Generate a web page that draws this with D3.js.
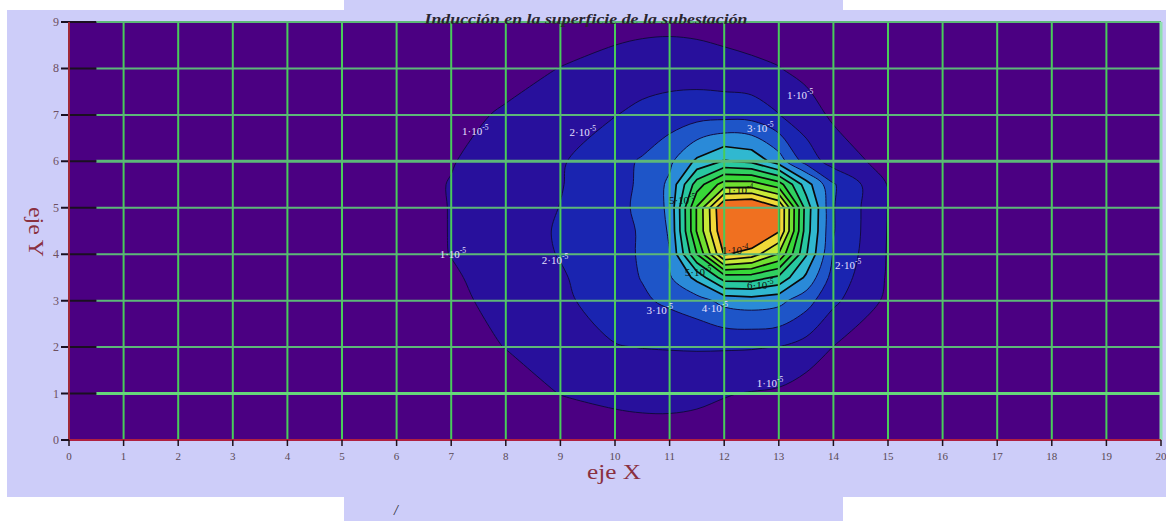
<!DOCTYPE html>
<html>
<head>
<meta charset="utf-8">
<script src="https://cdn.jsdelivr.net/npm/d3@7"></script>
<style>
  html, body { margin: 0; padding: 0; background: #fff; }
  svg { display: block; }
</style>
</head>
<body>
<svg id="chart" width="1166" height="521"></svg>
<script>
// Measurement mesh (metres). Finer spacing around the peak.
const gridX = [6, 7, 8, 9, 10, 10.5, 11, 11.5, 12, 12.5, 13, 13.5, 14, 15, 16];
const gridY = [0, 1, 2, 3, 3.5, 4, 4.5, 5, 5.5, 6, 7, 8, 9];

// Induction at each node in units of 1e-5, one row per gridY value (bottom to top)
const inductionRows = [
  [0.15, 0.20, 0.30, 0.40, 0.50, 0.58, 0.60, 0.60, 0.55, 0.45, 0.40, 0.35, 0.30, 0.20, 0.15], // y = 0
  [0.20, 0.35, 0.60, 1.02, 1.25, 1.30, 1.30, 1.20, 1.05, 0.95, 0.85, 0.50, 0.45, 0.30, 0.20], // y = 1
  [0.35, 0.65, 1.02, 1.55, 1.95, 2.02, 2.05, 2.08, 2.08, 2.06, 1.98, 1.60, 0.98, 0.55, 0.30], // y = 2
  [0.45, 0.82, 1.25, 1.80, 2.50, 2.85, 3.20, 3.60, 4.30, 4.50, 4.30, 3.40, 2.20, 0.80, 0.40], // y = 3
  [0.50, 0.90, 1.35, 1.90, 2.60, 3.05, 3.90, 5.30, 7.50, 7.50, 6.80, 4.80, 2.60, 0.90, 0.45], // y = 3.5
  [0.60, 1.02, 1.50, 2.05, 2.70, 3.10, 3.98, 8.00, 12.1, 11.5, 9.90, 6.10, 2.90, 0.93, 0.50], // y = 4
  [0.60, 1.03, 1.50, 2.10, 2.70, 3.10, 4.10, 9.10, 13.0, 13.5, 12.1, 6.50, 3.05, 0.95, 0.50], // y = 4.5
  [0.60, 1.03, 1.50, 2.02, 2.75, 3.20, 4.20, 9.10, 13.2, 13.5, 12.1, 6.60, 3.05, 0.97, 0.50], // y = 5
  [0.62, 1.04, 1.50, 1.95, 2.70, 3.15, 4.20, 7.50, 9.50, 9.50, 8.50, 5.50, 3.10, 0.95, 0.50], // y = 5.5
  [0.55, 0.95, 1.45, 1.90, 2.70, 3.10, 3.80, 5.20, 6.10, 5.80, 4.50, 2.60, 1.55, 0.65, 0.40], // y = 6
  [0.40, 0.75, 1.10, 1.60, 1.97, 2.25, 2.45, 2.60, 2.65, 2.60, 2.03, 1.40, 0.85, 0.45, 0.30], // y = 7
  [0.25, 0.45, 0.70, 1.02, 1.35, 1.50, 1.55, 1.50, 1.35, 1.20, 1.03, 0.75, 0.55, 0.30, 0.20], // y = 8
  [0.15, 0.25, 0.40, 0.50, 0.65, 0.72, 0.75, 0.70, 0.60, 0.50, 0.45, 0.35, 0.30, 0.20, 0.15]  // y = 9
];

// Contour levels (x 1e-5) and the fill of the band above each level
const levels = [1, 2, 3, 4, 5, 6, 7, 8, 9, 10, 11, 12];
const bandColors = ['#28109c', '#1a24b0', '#1e55c8', '#2a8ad8', '#30b8d0', '#28c8a0',
                    '#30d060', '#38d838', '#70e030', '#c8e838', '#f0d838', '#f07020'];

// Axis ticks
const xTicks = d3.range(0, 21);
const yTicks = d3.range(0, 10);

// Contour labels: position (m), mantissa, exponent, dark text inside the peak
const labelX = [7.44, 9.41, 13.39, 12.66, 7.03, 8.90, 14.27, 10.82, 11.83, 12.84, 12.29, 11.23, 12.20, 11.52, 12.66];
const labelY = [6.65, 6.63, 7.43, 6.72, 4.00, 3.88, 3.77, 2.80, 2.84, 1.23, 5.38, 5.17, 4.09, 3.62, 3.34];
const labelMant = ['1', '2', '1', '3', '1', '2', '2', '3', '4', '1', '1', '5', '1', '5', '6'];
const labelExp = ['-5', '-5', '-5', '-5', '-5', '-5', '-5', '-5', '-5', '-5', '-4', '-5', '-4', '-5', '-5'];
const labelDark = [false, false, false, false, false, false, false, false, false, false, true, true, true, true, true];

const W = 1166, H = 521;
const svg = d3.select('#chart');
const serif = '"Liberation Serif", "DejaVu Serif", serif';

// page backdrop
svg.append('rect').attr('width', W).attr('height', H).attr('fill', '#ffffff');
svg.append('rect').attr('x', 7).attr('y', 10).attr('width', W - 7).attr('height', 487).attr('fill', '#cdcdf9');
svg.append('rect').attr('x', 344).attr('y', 0).attr('width', 499).attr('height', H).attr('fill', '#cdcdf9');

const x = d3.scaleLinear().domain([0, 20]).range([69, 1161]);
const y = d3.scaleLinear().domain([0, 9]).range([440, 22]);

// plot background (values below the first level)
svg.append('rect')
  .attr('x', x(0)).attr('y', y(9))
  .attr('width', x(20) - x(0)).attr('height', y(0) - y(9))
  .attr('fill', '#4b0082');

svg.append('clipPath').attr('id', 'plotClip')
  .append('rect')
  .attr('x', x(0)).attr('y', y(9))
  .attr('width', x(20) - x(0)).attr('height', y(0) - y(9));

// filled contour bands on the non-uniform mesh
const nx = gridX.length, ny = gridY.length;
const values = inductionRows.flat();
const bands = d3.contours().size([nx, ny]).thresholds(levels)(values);
const ix = d3.scaleLinear().domain(gridX.map((_, i) => i + 0.5)).range(gridX);
const iy = d3.scaleLinear().domain(gridY.map((_, j) => j + 0.5)).range(gridY);

const gC = svg.append('g').attr('clip-path', 'url(#plotClip)');
bands.forEach((band, k) => {
  const curve = band.value <= 4 ? d3.curveCatmullRomClosed.alpha(0.5) : d3.curveLinearClosed;
  const line = d3.line().curve(curve);
  let d = '';
  band.coordinates.forEach(poly => {
    poly.forEach(ring => {
      const pts = ring.slice(0, -1).map(([a, b]) => [x(ix(a)), y(iy(b))]);
      if (pts.length > 2) d += line(pts);
    });
  });
  if (!d) return;
  gC.append('path')
    .attr('d', d)
    .attr('fill', bandColors[k])
    .attr('fill-rule', 'evenodd')
    .attr('stroke', band.value >= 5 ? '#0a0a0a' : '#120a40')
    .attr('stroke-width', band.value >= 5 ? 1.7 : 1)
    .attr('stroke-linejoin', 'round');
});

// grid: vertical lines at each metre
const gGrid = svg.append('g');
xTicks.filter(v => v > 0 && v < 20).forEach(v => {
  gGrid.append('line')
    .attr('x1', x(v)).attr('x2', x(v))
    .attr('y1', y(9)).attr('y2', y(0))
    .attr('stroke', '#48cc5a').attr('stroke-width', 2);
});
// horizontal lines: dark stub next to the axis, green to the right
yTicks.filter(v => v > 0).forEach(v => {
  gGrid.append('line')
    .attr('x1', x(0.5)).attr('x2', x(20))
    .attr('y1', y(v)).attr('y2', y(v))
    .attr('stroke', v === 1 ? '#66d87a' : '#5cb878')
    .attr('stroke-width', (v === 1 || v === 6) ? 3 : 2);
  gGrid.append('line')
    .attr('x1', x(0) - 8).attr('x2', x(0.5))
    .attr('y1', y(v)).attr('y2', y(v))
    .attr('stroke', '#1a1020').attr('stroke-width', 2);
});
// right border
svg.append('line')
  .attr('x1', x(20)).attr('x2', x(20)).attr('y1', y(9)).attr('y2', y(0))
  .attr('stroke', '#8fe0b0').attr('stroke-width', 3);

// axes
svg.append('line')
  .attr('x1', x(0)).attr('x2', x(0)).attr('y1', y(9)).attr('y2', y(0))
  .attr('stroke', '#a02838').attr('stroke-width', 2);
svg.append('line')
  .attr('x1', x(0)).attr('x2', x(20)).attr('y1', y(0)).attr('y2', y(0))
  .attr('stroke', '#b02040').attr('stroke-width', 2);
svg.append('line')
  .attr('x1', x(0) - 8).attr('x2', x(0)).attr('y1', y(0)).attr('y2', y(0))
  .attr('stroke', '#1a1020').attr('stroke-width', 2);

// x tick marks and labels
xTicks.forEach(v => {
  svg.append('line')
    .attr('x1', x(v)).attr('x2', x(v)).attr('y1', y(0)).attr('y2', y(0) + 6)
    .attr('stroke', '#201018').attr('stroke-width', 1.5);
  svg.append('text')
    .attr('x', x(v)).attr('y', y(0) + 20)
    .attr('text-anchor', 'middle')
    .attr('font-family', serif).attr('font-size', 11)
    .attr('fill', '#5a4a55')
    .text(v);
});
// y tick labels
yTicks.forEach(v => {
  svg.append('text')
    .attr('x', x(0) - 10).attr('y', y(v) + 4)
    .attr('text-anchor', 'end')
    .attr('font-family', serif).attr('font-size', 12)
    .attr('fill', '#6e5060')
    .text(v);
});

// contour labels
labelX.forEach((lx, i) => {
  const t = svg.append('text')
    .attr('x', x(lx)).attr('y', y(labelY[i]) + 4)
    .attr('text-anchor', 'middle')
    .attr('font-family', serif).attr('font-size', 11)
    .attr('fill', labelDark[i] ? '#101010' : '#e6e0ff');
  t.append('tspan').text(labelMant[i] + '\u00b710');
  t.append('tspan').attr('dy', -5).attr('font-size', 7.5).text(labelExp[i]);
});

// titles
svg.append('text')
  .attr('x', 586).attr('y', 24)
  .attr('text-anchor', 'middle')
  .attr('font-family', serif).attr('font-style', 'italic').attr('font-weight', 'bold')
  .attr('font-size', 15).attr('fill', '#2a2630')
  .attr('textLength', 323).attr('lengthAdjust', 'spacingAndGlyphs')
  .text('Inducción en la superficie de la subestación');

svg.append('text')
  .attr('x', 614).attr('y', 479)
  .attr('text-anchor', 'middle')
  .attr('font-family', serif).attr('font-size', 20).attr('fill', '#8a3040')
  .attr('textLength', 54).attr('lengthAdjust', 'spacingAndGlyphs')
  .text('eje X');

svg.append('text')
  .attr('transform', 'translate(29,232) rotate(90)')
  .attr('text-anchor', 'middle')
  .attr('font-family', serif).attr('font-size', 20).attr('fill', '#8a3040')
  .attr('textLength', 50).attr('lengthAdjust', 'spacingAndGlyphs')
  .text('eje Y');

svg.append('text')
  .attr('x', 396).attr('y', 515)
  .attr('text-anchor', 'middle')
  .attr('font-family', serif).attr('font-style', 'italic')
  .attr('font-size', 14).attr('fill', '#202020')
  .text('/');
</script>
</body>
</html>
